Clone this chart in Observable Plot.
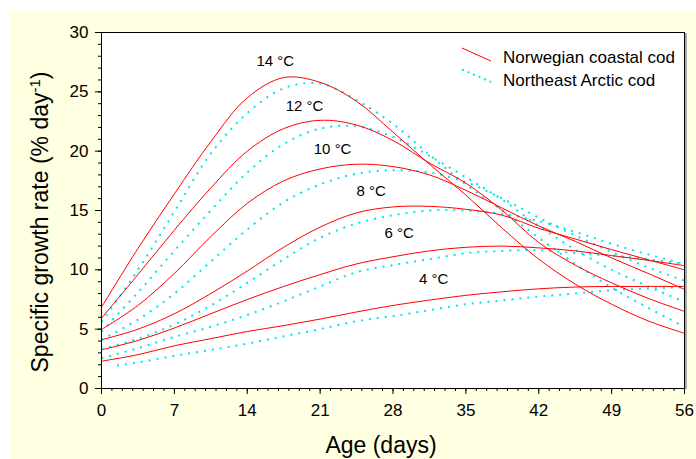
<!DOCTYPE html>
<html><head><meta charset="utf-8">
<script src="https://cdn.jsdelivr.net/npm/d3@7"></script>
<script src="https://cdn.jsdelivr.net/npm/@observablehq/plot@0.6"></script>
<style>
html,body{margin:0;padding:0;background:#fff;}
#chart{width:696px;height:459px;}
</style></head><body><div id="chart"></div>
<script>
// Age (days) sample points
const days = [0,3.5,7,10.5,14,17.5,21,24.5,28,31.5,35,38.5,42,45.5,49,52.5,56];
const daysArctic4 = [1.5,3.5,7,10.5,14,17.5,21,24.5,28,31.5,35,38.5,42,45.5,49,52.5,56];
const temperatures = [14,12,10,8,6,4];

// Norwegian coastal cod (solid red)
const coastal14 = [6.85,11.8,16.4,20.8,24.5,26.2,25.8,24.2,21.6,18.9,16.3,13.5,10.9,8.8,7.1,5.7,4.65];
const coastal12 = [5.93,9.6,13.35,16.9,20.0,21.9,22.6,22.2,20.9,19.0,17.3,15.0,12.3,10.4,8.9,7.6,6.5];
const coastal10 = [4.97,7.0,9.7,12.8,15.6,17.5,18.5,18.9,18.7,18.0,16.7,15.2,13.7,12.4,11.0,9.7,8.35];
const coastal8  = [4.1,5.0,6.3,8.0,9.9,11.9,13.6,14.8,15.3,15.35,15.1,14.6,13.5,12.6,11.7,10.85,10.0];
const coastal6  = [3.26,4.05,5.1,6.3,7.5,8.6,9.6,10.5,11.1,11.6,11.9,12.0,11.85,11.6,11.2,10.8,10.35];
const coastal4  = [2.3,2.85,3.6,4.2,4.8,5.3,5.85,6.45,7.0,7.45,7.85,8.15,8.4,8.55,8.6,8.6,8.6];

// Northeast Arctic cod (dotted cyan)
const arctic14 = [5.6,10.0,14.9,19.8,23.2,25.3,25.7,24.3,22.3,19.7,17.2,15.0,12.7,10.5,8.5,6.8,5.2];
const arctic12 = [4.8,8.1,11.6,15.0,18.2,20.6,21.9,22.1,21.2,19.6,17.8,15.9,13.7,11.7,10.0,8.6,7.3];
const arctic10 = [4.1,5.8,8.0,10.7,13.4,15.7,17.2,18.1,18.4,18.2,17.4,16.0,14.4,12.9,11.5,10.2,9.1];
const arctic8  = [3.3,4.2,5.4,7.0,8.9,10.9,12.7,13.9,14.6,15.0,15.0,14.7,14.1,13.2,12.2,11.3,10.5];
const arctic6  = [2.55,3.4,4.35,5.2,6.2,7.35,8.6,9.8,10.4,10.9,11.4,11.6,11.65,11.4,11.2,10.9,10.5];
const arctic4  = [1.93,2.2,2.75,3.25,3.78,4.4,5.0,5.67,6.1,6.6,7.1,7.42,7.75,8.0,8.28,8.42,8.55];

// Curve annotations
const curveLabels = ["14 °C","12 °C","10 °C","8 °C","6 °C","4 °C"];
const labelDay = [16.7,19.5,22.2,25.9,28.6,31.9];
const labelRate = [27.6,23.75,20.15,16.6,13.05,9.2];

const xTicks = [0,7,14,21,28,35,42,49,56];
const yTicks = [0,5,10,15,20,25,30];
const legendNames = ["Norwegian coastal cod","Northeast Arctic cod"];

const coastalSeries = [coastal14,coastal12,coastal10,coastal8,coastal6,coastal4];
const arcticSeries = [arctic14,arctic12,arctic10,arctic8,arctic6,arctic4];

const coastalData = [];
coastalSeries.forEach((s,i)=>s.forEach((v,j)=>coastalData.push({temp:temperatures[i],day:days[j],rate:v})));
const arcticData = [];
arcticSeries.forEach((s,i)=>{
  const dd = temperatures[i]===4 ? daysArctic4 : days;
  s.forEach((v,j)=>arcticData.push({temp:temperatures[i],day:dd[j],rate:v}));
});
const labelData = curveLabels.map((t,i)=>({text:t,day:labelDay[i],rate:labelRate[i]}));

const FONT = "'Liberation Sans', Arial, Helvetica, sans-serif";
const CYAN = "#00e4f0";

const plot = Plot.plot({
  width: 696, height: 459,
  marginLeft: 101, marginRight: 12, marginTop: 32, marginBottom: 71,
  style: {background: "transparent", fontFamily: FONT, fontSize: "17px", color: "black"},
  x: {domain: [0,56]},
  y: {domain: [0,30]},
  marks: [
    Plot.frame({fill: "white", stroke: null}),
    Plot.axisX({ticks: d3.range(0,57,1), tickSize: 3, tickFormat: () => "", label: null}),
    Plot.axisX({ticks: xTicks, tickSize: 6, tickPadding: 9, label: null, fontSize: 17}),
    Plot.axisY({ticks: d3.range(0,31,1), tickSize: 3, tickFormat: () => "", label: null}),
    Plot.axisY({ticks: yTicks, tickSize: 6, tickPadding: 7, label: null, fontSize: 17}),
    Plot.line(arcticData, {x: "day", y: "rate", z: "temp", stroke: CYAN, strokeWidth: 2, strokeDasharray: "2,6", strokeLinecap: "butt", curve: "catmull-rom"}),
    Plot.line(coastalData, {x: "day", y: "rate", z: "temp", stroke: "#ff0000", strokeWidth: 1, curve: "catmull-rom"}),
    Plot.text(labelData, {x: "day", y: "rate", text: "text", fontSize: 15, fill: "black", textAnchor: "middle", lineAnchor: "middle"}),
    Plot.frame({stroke: "black", strokeWidth: 1})
  ]
});

document.getElementById("chart").appendChild(plot);
const svg = d3.select(plot);
svg.style("background", "#fff");
svg.insert("rect", ":first-child")
  .attr("x", 10).attr("y", 11).attr("width", 686).attr("height", 448)
  .attr("fill", "#ffffe1");

// right shadow of plot frame
svg.append("line").attr("x1", 686).attr("x2", 686).attr("y1", 33).attr("y2", 389)
  .attr("stroke", "#a8a8a8").attr("stroke-width", 2);

// legend
const lg = svg.append("g").attr("font-family", FONT).attr("font-size", 17).attr("text-anchor", "start");
lg.append("line").attr("x1", 462).attr("y1", 48).attr("x2", 491).attr("y2", 61)
  .attr("stroke", "#ff0000").attr("stroke-width", 1);
lg.append("line").attr("x1", 462).attr("y1", 69.5).attr("x2", 491).attr("y2", 82)
  .attr("stroke", CYAN).attr("stroke-width", 2).attr("stroke-dasharray", "2,4");
lg.append("text").attr("x", 503).attr("y", 63).attr("fill", "black").text(legendNames[0]);
lg.append("text").attr("x", 503).attr("y", 86).attr("fill", "black").text(legendNames[1]);

// axis titles
svg.append("text").attr("x", 381).attr("y", 453).attr("text-anchor", "middle")
  .attr("font-family", FONT).attr("font-size", 23).attr("fill", "black").text("Age (days)");
const yt = svg.append("text").attr("transform", "translate(48,222) rotate(-90)")
  .attr("text-anchor", "middle").attr("font-family", FONT).attr("font-size", 23).attr("fill", "black");
yt.append("tspan").text("Specific growth rate (% day");
yt.append("tspan").attr("baseline-shift", "super").attr("font-size", 15).text("-1");
yt.append("tspan").text(")");
</script></body></html>
